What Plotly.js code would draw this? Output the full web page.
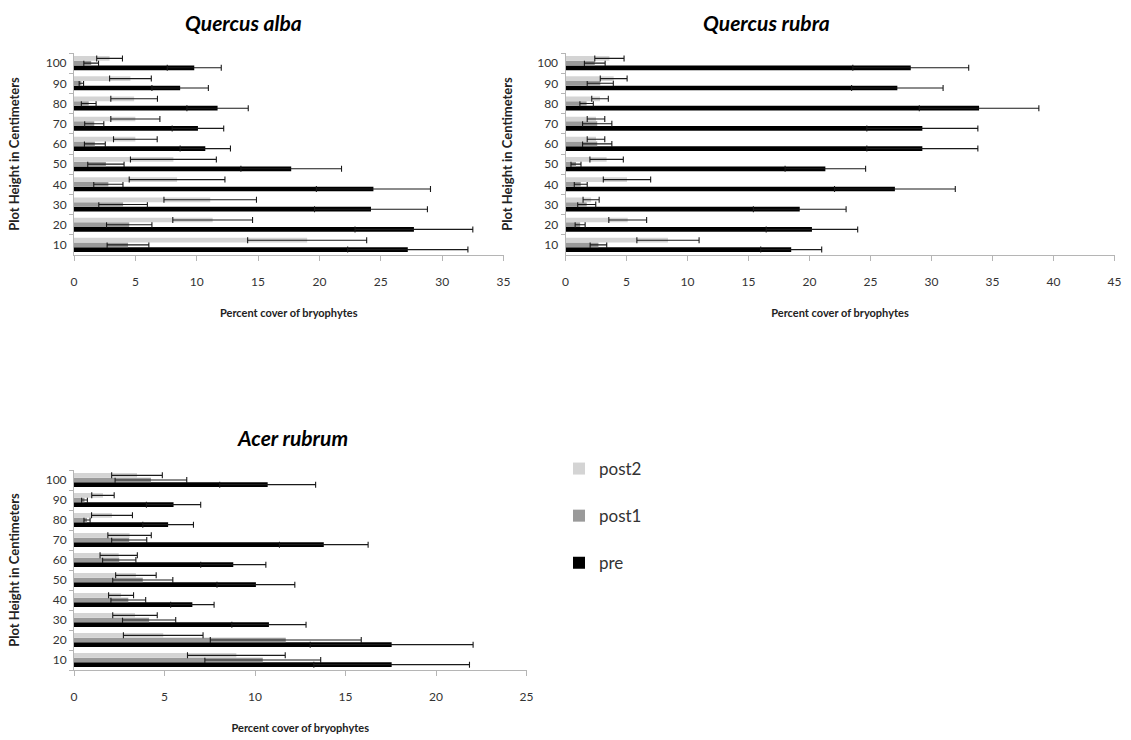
<!DOCTYPE html>
<html>
<head>
<meta charset="utf-8">
<script src="https://cdn.plot.ly/plotly-3.0.1.min.js"></script>
<style>html,body{margin:0;padding:0;background:#fff;}#chart{width:1131px;height:740px;}</style>
</head>
<body>
<div id="chart"></div>
<script>
// Categories (plot heights, cm)
const heights = ['10','20','30','40','50','60','70','80','90','100'];
const seriesNames = ['pre','post1','post2'];
const xTickVals1 = [0,5,10,15,20,25,30,35];
const xTickVals2 = [0,5,10,15,20,25,30,35,40,45];
const xTickVals3 = [0,5,10,15,20,25];

// Quercus alba
const albaPre = [27.2,27.7,24.2,24.4,17.7,10.7,10.1,11.7,8.65,9.8];
const albaPreErr = [4.9,4.8,4.6,4.65,4.1,2.05,2.1,2.5,2.3,2.2];
const albaPost1 = [4.4,4.5,4.0,2.8,2.6,1.7,1.65,1.2,0.6,1.4];
const albaPost1Err = [1.7,1.85,1.98,1.19,1.48,0.85,0.78,0.6,0.18,0.6];
const albaPost2 = [19.0,11.3,11.1,8.4,8.1,5.0,5.0,4.9,4.6,2.9];
const albaPost2Err = [4.85,3.25,3.77,3.9,3.5,1.78,2.0,1.9,1.7,1.05];

// Quercus rubra
const rubraPre = [18.5,20.2,19.2,27.0,21.3,29.25,29.25,33.9,27.2,28.3];
const rubraPreErr = [2.5,3.75,3.8,4.95,3.3,4.55,4.55,4.9,3.75,4.75];
const rubraPost1 = [2.7,1.2,1.74,1.25,0.86,2.6,2.6,1.73,2.85,2.4];
const rubraPost1Err = [0.68,0.41,0.74,0.53,0.41,1.2,1.2,0.55,1.07,0.85];
const rubraPost2 = [8.4,5.1,2.1,5.04,3.37,2.5,2.5,2.83,3.95,3.6];
const rubraPost2Err = [2.55,1.55,0.66,1.94,1.37,0.72,0.72,0.68,1.1,1.2];

// Acer rubrum
const acerPre = [17.55,17.55,10.77,6.54,10.05,8.8,13.8,5.2,5.5,10.7];
const acerPreErr = [4.3,4.5,2.05,1.2,2.15,1.8,2.45,1.4,1.5,2.65];
const acerPost1 = [10.43,11.7,4.15,3.0,3.8,2.5,3.05,0.72,0.58,4.25];
const acerPost1Err = [3.2,4.17,1.47,0.96,1.66,0.92,0.97,0.17,0.16,1.98];
const acerPost2 = [8.97,4.93,3.37,2.6,3.42,2.47,3.07,2.1,1.6,3.48];
const acerPost2Err = [2.7,2.2,1.23,0.69,1.12,1.03,1.2,1.13,0.62,1.4];

const colors = {pre:'#000000', post1:'#9a9a9a', post2:'#d4d4d4'};
const ranks = {post2:1, post1:2, pre:3};
const FONT = 'Lato, "Open Sans", sans-serif';

function mk(name, vals, errs, xa, ya, showLeg){
  return {
    type:'bar', orientation:'h', name:name, x:vals, y:heights,
    xaxis:xa, yaxis:ya, marker:{color:colors[name], line:{width:0}},
    error_x:{type:'data', array:errs, visible:true, color:'#1a1a1a', thickness:1.1, width:3},
    showlegend:showLeg, legendgroup:name, legendrank:ranks[name], hoverinfo:'x+y+name'
  };
}

const data = [
  mk('pre', albaPre, albaPreErr, 'x','y', true),
  mk('post1', albaPost1, albaPost1Err, 'x','y', true),
  mk('post2', albaPost2, albaPost2Err, 'x','y', true),
  mk('pre', rubraPre, rubraPreErr, 'x2','y2', false),
  mk('post1', rubraPost1, rubraPost1Err, 'x2','y2', false),
  mk('post2', rubraPost2, rubraPost2Err, 'x2','y2', false),
  mk('pre', acerPre, acerPreErr, 'x3','y3', false),
  mk('post1', acerPost1, acerPost1Err, 'x3','y3', false),
  mk('post2', acerPost2, acerPost2Err, 'x3','y3', false)
];

const W = 1131, H = 740;
function xax(x0, x1, maxv, vals, anchor){
  return {
    domain:[x0/W, x1/W], range:[0,maxv], tickvals:vals, ticktext:vals.map(String),
    anchor:anchor, showgrid:false, zeroline:false, showline:true, linecolor:'#b5b5b5', linewidth:1,
    ticks:'outside', ticklen:5, tickcolor:'#b5b5b5', tickfont:{family:FONT, size:12, color:'#333'},
    ticklabelstandoff:11, fixedrange:true,
    title:{text:'Percent cover of bryophytes', font:{family:FONT, size:11, color:'#222', weight:'bold'}, standoff:20}
  };
}
function yax(top, bottom, anchor, standoff){
  return {
    domain:[1-bottom/H, 1-top/H], type:'category', categoryorder:'array', categoryarray:heights,
    anchor:anchor, showgrid:false, zeroline:false, showline:true, linecolor:'#b5b5b5', linewidth:1,
    ticks:'outside', ticklen:4, tickcolor:'#b5b5b5', tickson:'boundaries',
    tickfont:{family:FONT, size:12, color:'#333'}, ticklabelstandoff:4, fixedrange:true,
    title:{text:'Plot Height in Centimeters', font:{family:FONT, size:13, color:'#222', weight:'bold'}, standoff:standoff}
  };
}

const layout = {
  width:W, height:H, margin:{l:0,r:0,t:0,b:0}, paper_bgcolor:'#fff', plot_bgcolor:'#fff',
  barmode:'group', bargap:0.3, bargroupgap:0,
  font:{family:FONT, color:'#333'},
  xaxis: xax(74, 503.5, 35, xTickVals1, 'y'),
  yaxis: yax(53, 255, 'x', 23),
  xaxis2: xax(565.5, 1114.5, 45, xTickVals2, 'y2'),
  yaxis2: yax(53, 255, 'x2', 21),
  xaxis3: xax(74, 526.5, 25, xTickVals3, 'y3'),
  yaxis3: yax(470, 670, 'x3', 23),
  showlegend:true,
  legend:{x:559/W, y:1-451/H, xanchor:'left', yanchor:'top', traceorder:'grouped', tracegroupgap:22,
          font:{family:FONT, size:17, color:'#333'}, bgcolor:'rgba(0,0,0,0)', itemwidth:30},
  annotations:[
    {text:'<b><i>Quercus alba</i></b>', xref:'paper', yref:'paper', x:243/W, y:1-22/H, showarrow:false, xanchor:'center', yanchor:'middle', font:{family:FONT, size:21, color:'#000'}},
    {text:'<b><i>Quercus rubra</i></b>', xref:'paper', yref:'paper', x:766/W, y:1-22/H, showarrow:false, xanchor:'center', yanchor:'middle', font:{family:FONT, size:21, color:'#000'}},
    {text:'<b><i>Acer rubrum</i></b>', xref:'paper', yref:'paper', x:292/W, y:1-438/H, showarrow:false, xanchor:'center', yanchor:'middle', font:{family:FONT, size:21, color:'#000'}}
  ]
};

Plotly.newPlot('chart', data, layout, {displayModeBar:false, staticPlot:true});
</script>
</body>
</html>
